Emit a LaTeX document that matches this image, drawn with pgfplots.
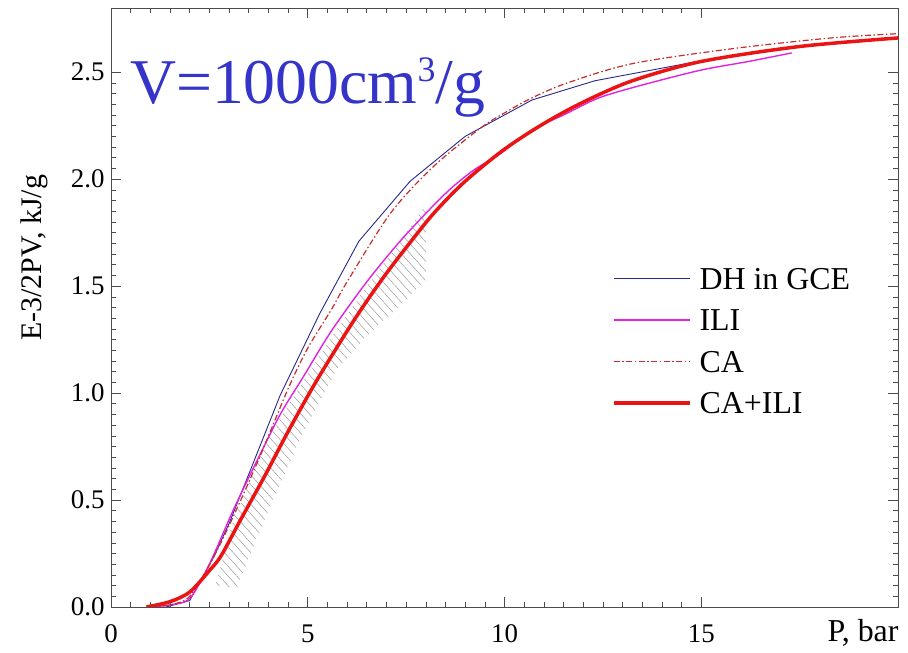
\documentclass[border=0pt]{standalone}
\usepackage{fontspec}
\setmainfont{Liberation Serif}
\usepackage{pgfplots}
\pgfplotsset{compat=1.18}
\usetikzlibrary{patterns.meta}
\definecolor{dhblue}{RGB}{40,40,140}
\definecolor{ilimag}{RGB}{225,35,225}
\definecolor{cadark}{RGB}{200,45,45}
\definecolor{cared}{RGB}{235,20,20}
\definecolor{titleblue}{RGB}{52,52,200}
\begin{document}
\begin{tikzpicture}
\path[use as bounding box] (0,0) rectangle (908bp,653bp);
\begin{axis}[
  at={(111bp,46bp)}, anchor=south west,
  scale only axis, width=787bp, height=599bp,
  xmin=0, xmax=20, ymin=0, ymax=2.8,
  xtick={0,5,10,15}, ytick={0,0.5,1,1.5,2,2.5},
  minor x tick num=9, minor y tick num=9,
  tick align=inside,
  major tick length=10bp, minor tick length=5bp,
  axis line style={black!70, line width=0.8bp},
  every tick/.style={black!70, line width=0.6bp},
  /pgf/number format/assume math mode=true,
  ticklabel style={font=\fontsize{27}{30}\selectfont},
  xticklabel style={yshift=-14bp},
  yticklabel style={xshift=-3bp, /pgf/number format/.cd, fixed, fixed zerofill, precision=1},
  xlabel={P, bar},
  xlabel style={at={(axis description cs:1,0)}, anchor=north east, font=\fontsize{32}{36}\selectfont, yshift=-9bp, xshift=4bp},
  ylabel={E-3/2PV, kJ/g},
  ylabel style={at={(axis description cs:-0.0877,0.583)}, anchor=base, rotate=0, font=\fontsize{30}{34}\selectfont},
  legend cell align=left,
  legend style={at={(axis cs:12.73,1.595)}, anchor=north west, draw=none, fill=none,
    font=\fontsize{32}{36}\selectfont, inner sep=0pt, row sep=15bp, column sep=6bp},
  legend image code/.code={\draw[#1] (0bp,1bp) -- (76bp,1bp);},
]
% hatched experimental region
\addplot[draw=none, forget plot, pattern={Lines[angle=-48, distance=6.5bp, line width=0.5bp]}, pattern color=black!40]
coordinates {(2.65,0.10) (3.10,0.40) (3.96,0.78) (4.80,1.03) (5.63,1.27) (6.50,1.50) (7.30,1.70) (8.00,1.88)
 (8.00,1.53) (7.41,1.42) (6.57,1.28) (5.74,1.11) (4.87,0.81) (4.04,0.47) (3.20,0.09)} -- cycle;

\addplot[dhblue, line width=0.9bp] coordinates {
(1.4,0) (2.0,0.03) (2.6,0.23) (3.0,0.39) (3.5,0.62) (4.3,0.99) (5.3,1.37) (6.3,1.71) (7.6,1.99)
(9.0,2.20) (10.0,2.30) (10.7,2.37) (12.3,2.46) (14.9,2.55)};
\addlegendentry{DH in GCE}

\addplot[ilimag, line width=1.4bp, smooth, legend image post style={ilimag, line width=1.6bp}] coordinates {
(1.0,0) (1.5,0.01) (2.0,0.04) (2.5,0.20) (3.1,0.45) (3.7,0.68) (4.3,0.90) (4.9,1.08) (5.6,1.29)
(6.5,1.52) (7.3,1.70) (8.0,1.84) (8.6,1.95) (9.2,2.04) (9.9,2.12) (10.7,2.23) (11.5,2.30)
(12.4,2.38) (13.5,2.44) (15.0,2.51) (16.2,2.55) (17.3,2.59)};
\addlegendentry{ILI}

\addplot[cadark, line width=1.2bp, dash pattern=on 6bp off 2.5bp on 1.5bp off 2.5bp, smooth, legend image post style={cadark, line width=1.4bp}] coordinates {
(1.0,0) (1.5,0.01) (2.0,0.05) (2.6,0.23) (3.2,0.46) (3.8,0.71) (4.5,1.02) (5.0,1.21) (5.6,1.39)
(6.0,1.52) (7.1,1.84) (8.2,2.06) (9.4,2.24) (10.1,2.32) (10.7,2.38) (11.6,2.45) (13.25,2.54)
(15.8,2.61) (18.3,2.66) (20,2.68)};
\addlegendentry{CA}

\addplot[cared, line width=3.5bp, smooth] coordinates {
(0.9,0) (1.5,0.025) (2.0,0.07) (2.5,0.17) (2.8,0.24) (3.3,0.41) (3.9,0.61) (4.5,0.82) (5.2,1.05)
(6.0,1.29) (6.5,1.43) (7.0,1.56) (7.5,1.68) (8.2,1.84) (9.0,1.99) (10.0,2.14) (11.0,2.26)
(12.0,2.36) (13.25,2.46) (15.0,2.55) (17.5,2.62) (20,2.66)};
\addlegendentry{CA+ILI}

\node[anchor=base west, text=titleblue, font=\fontsize{64}{70}\selectfont, inner sep=0pt]
  at (axis cs:0.48,2.355) {V=1000cm\raisebox{22bp}{\fontsize{36}{36}\selectfont 3}/g};
\end{axis}
\end{tikzpicture}
\end{document}
